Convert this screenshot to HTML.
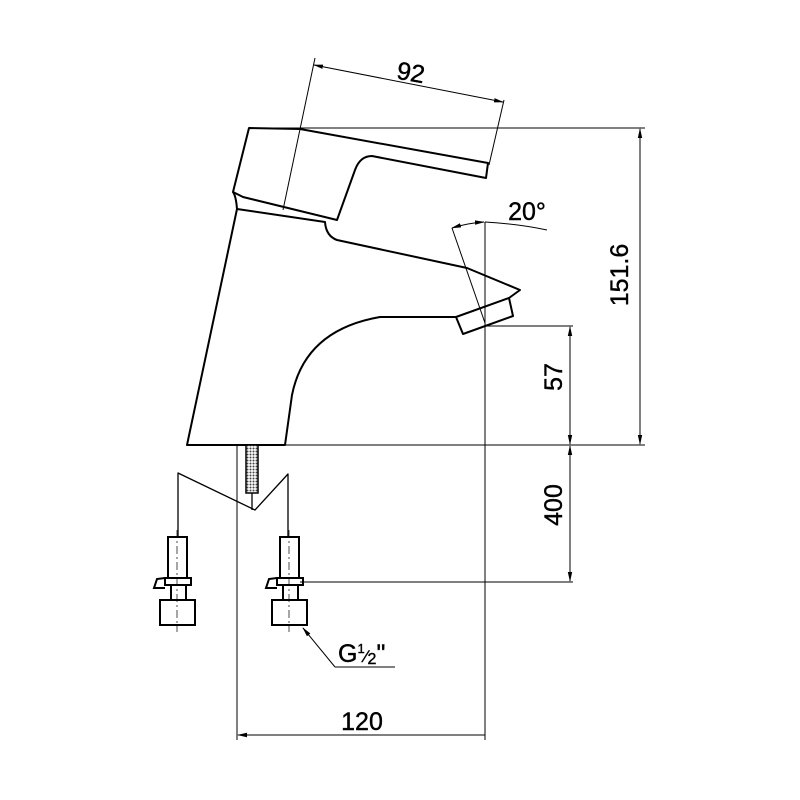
<!DOCTYPE html>
<html><head><meta charset="utf-8"><style>html,body{margin:0;padding:0;background:#fff}svg{display:block}</style></head><body>
<svg width="800" height="800" viewBox="0 0 800 800" xmlns="http://www.w3.org/2000/svg" font-family="Liberation Sans, Arial, sans-serif">
<defs>
<marker id="a" markerWidth="10" markerHeight="6" refX="9" refY="3" orient="auto-start-reverse" markerUnits="userSpaceOnUse"><path d="M0,0.8 L10,3 L0,5.2z" fill="#000"/></marker>
<pattern id="h" width="3" height="3" patternUnits="userSpaceOnUse"><rect width="3" height="3" fill="#fff"/><circle cx="1.5" cy="1.5" r="1" fill="#444"/></pattern>
</defs>
<g fill="none" stroke="#000" stroke-width="1">
<line x1="250" y1="128" x2="645" y2="128"/>
<line x1="187" y1="445" x2="645" y2="445"/>
<line x1="485" y1="222" x2="485" y2="740"/>
<line x1="485" y1="326" x2="573" y2="326"/>
<line x1="300" y1="582" x2="573" y2="582"/>
<line x1="237" y1="445" x2="237" y2="740"/>
<line x1="315" y1="58" x2="283" y2="210"/>
<line x1="504" y1="100" x2="489" y2="165"/>
<line x1="452" y1="228" x2="485" y2="323"/>
<path d="M485,222 Q520,224 547,230"/>
<line x1="335" y1="667" x2="395" y2="667"/>
</g>
<g stroke="#000" stroke-width="1" fill="none">
<line x1="314" y1="65" x2="503" y2="102" marker-start="url(#a)" marker-end="url(#a)"/>
<line x1="640" y1="129" x2="640" y2="444" marker-start="url(#a)" marker-end="url(#a)"/>
<line x1="570" y1="327" x2="570" y2="444" marker-start="url(#a)" marker-end="url(#a)"/>
<line x1="570" y1="446" x2="570" y2="581" marker-start="url(#a)" marker-end="url(#a)"/>
<line x1="238" y1="735" x2="485" y2="735" marker-start="url(#a)"/>
<path d="M452,228 Q468,223 484,222" marker-start="url(#a)" marker-end="url(#a)"/>
<line x1="335" y1="667" x2="303" y2="628" marker-end="url(#a)"/>
</g>
<g fill="none" stroke="#000" stroke-width="2" stroke-linejoin="round">
<path d="M249,128 L300,129 L488,163 L486,178 L372,156 Q360,156 355,170 L337,220 L243,197 L233,192 Z"/>
<path d="M233,192 Q236,196 237,209"/>
<path d="M237,209 L187,445 L285,445 L292,395 Q305,330 380,317 L456,317"/>
<path d="M237,209 L325,222 Q326,236 337,240 L467,268 L520,290 L509,298"/>
<path d="M456,317 L509,298 L513,316 L463,334 Z"/>
<path d="M178,537 L178,473 L255,510 L288,474 L288,537" stroke-width="1.3"/>
<line x1="252" y1="493" x2="252" y2="510" stroke-width="1.3"/>
</g>
<rect x="246" y="445" width="12" height="48" fill="url(#h)" stroke="#000" stroke-width="1.5"/>
<g id="f" fill="none" stroke="#000" stroke-width="2">
<rect x="168" y="537" width="19" height="41"/>
<rect x="165" y="578" width="26" height="7"/>
<rect x="171" y="585" width="15" height="15"/>
<rect x="160" y="600" width="35" height="25"/>
<path d="M165,578 L157,579 L154,588 L165,588"/>
<line x1="177" y1="530" x2="177" y2="632" stroke-width="0.7" stroke-dasharray="8,3,2,3"/>
</g>
<use href="#f" x="112"/>
<g font-size="25" fill="#000" text-anchor="middle" stroke="#000" stroke-width="0.4">
<text x="411" y="81" transform="rotate(10 411 72)">92</text>
<text x="527" y="220">20°</text>
<text x="637" y="284" transform="rotate(-90 628 284)">151.6</text>
<text x="571" y="386" transform="rotate(-90 562 386)">57</text>
<text x="571" y="514" transform="rotate(-90 562 514)">400</text>
<text x="362" y="730">120</text>
<text x="338" y="662" text-anchor="start">G<tspan font-size="13" dy="-9">1</tspan><tspan font-size="17" dy="9">⁄</tspan><tspan font-size="16" dy="2">2</tspan><tspan dy="-2">"</tspan></text>
</g>
</svg>
</body></html>
